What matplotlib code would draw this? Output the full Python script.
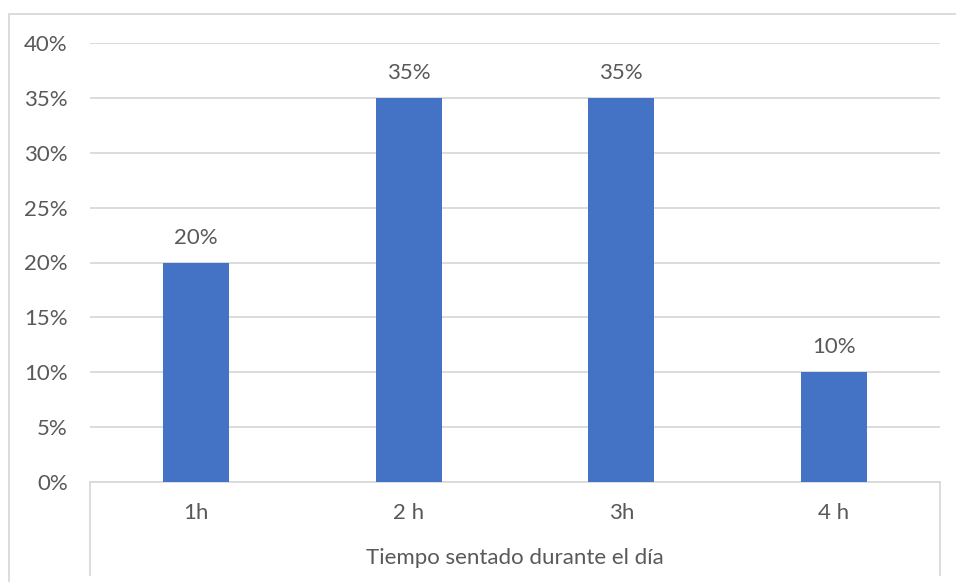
import numpy as np
import matplotlib.pyplot as plt
from matplotlib.patches import Rectangle

categories = ['1h', '2 h', '3h', '4 h']
values = [0.20, 0.35, 0.35, 0.10]
y_ticks = [0, 0.05, 0.10, 0.15, 0.20, 0.25, 0.30, 0.35, 0.40]
x_title = 'Tiempo sentado durante el día'

bar_color = '#4472C4'
text_color = '#595959'
grid_color = '#D9D9D9'

plt.rcParams['font.family'] = ['Lato', 'DejaVu Sans']

W, H = 956, 582
fig = plt.figure(figsize=(W / 100, H / 100), dpi=100)
ax = fig.add_axes([90 / W, 1 - 482 / H, 850 / W, 439 / H])

x = np.arange(len(categories))
ax.bar(x, values, width=0.31, color=bar_color, zorder=3)
ax.set_xlim(-0.5, len(categories) - 0.5)
ax.set_ylim(0, 0.4)

ax.set_yticks(y_ticks)
ax.set_yticklabels([f'{int(round(v * 100))}%' for v in y_ticks])
ax.yaxis.grid(True, color=grid_color, linewidth=1.3, zorder=0)
ax.tick_params(axis='y', length=0, pad=16, labelsize=16, labelcolor=text_color)

ax.set_xticks(x)
ax.set_xticklabels(categories)
ax.tick_params(axis='x', length=0, pad=15, labelsize=16, labelcolor=text_color)

for s in ['top', 'right', 'left']:
    ax.spines[s].set_visible(False)
ax.spines['bottom'].set_color(grid_color)
ax.spines['bottom'].set_linewidth(1.3)

for xi, v in zip(x, values):
    ax.annotate(f'{int(round(v * 100))}%', (xi, v), xytext=(0, 18),
                textcoords='offset points', ha='center', va='center',
                fontsize=16, color=text_color)

# category box lines below the axis
drop = -(575 - 482) / 439
for xa in [0, 1]:
    ax.plot([xa, xa], [0, drop], transform=ax.transAxes, color=grid_color,
            linewidth=1.3, clip_on=False)

ax.text(0.5, -(558 - 482) / 439, x_title, transform=ax.transAxes,
        ha='center', va='center', fontsize=16, color=text_color)

# chart outer border, cropped by the image edge
fig.patches.append(Rectangle((8.5 / W, -0.05), 1.1, 1 - 13.5 / H + 0.05,
                             transform=fig.transFigure, fill=False,
                             edgecolor=grid_color, linewidth=1.3))

fig.savefig('out.png', dpi=100)
